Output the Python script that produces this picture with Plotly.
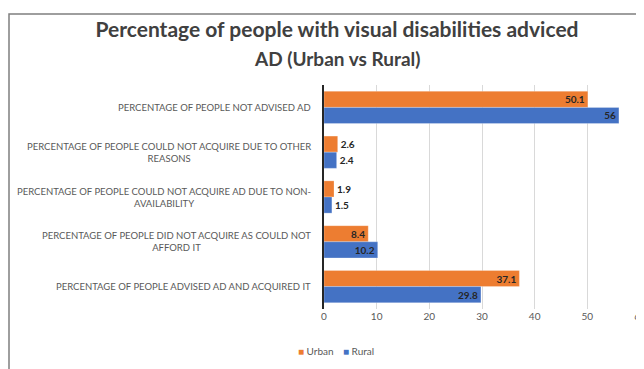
import plotly.graph_objects as go

categories = [
    "PERCENTAGE OF PEOPLE NOT ADVISED AD",
    "PERCENTAGE OF PEOPLE COULD NOT ACQUIRE DUE TO OTHER<br>REASONS",
    "PERCENTAGE OF PEOPLE COULD NOT ACQUIRE AD DUE TO NON-<br>AVAILABILITY",
    "PERCENTAGE OF PEOPLE DID NOT ACQUIRE AS COULD NOT<br>AFFORD IT",
    "PERCENTAGE OF PEOPLE ADVISED AD AND ACQUIRED IT",
]
urban = [50.1, 2.6, 1.9, 8.4, 37.1]
rural = [56, 2.4, 1.5, 10.2, 29.8]
x_ticks = [0, 10, 20, 30, 40, 50, 60]
title_lines = ["Percentage of people with visual disabilities adviced", "AD (Urban vs Rural)"]

FONT = "Lato"
LABEL_FONT = dict(family=FONT, size=10, color="#262626", weight="bold")

# page body has an 8px default margin, so figure is 8px smaller than window
W, H = 636, 361
PL, PR, PT, PB = 316, 632, 77, 307
PW, PH = PR - PL, PB - PT


def px(x):
    return (x - PL) / PW


def py(y):
    return (PB - y) / PH


def positions(vals):
    return ["inside" if v > 5 else "outside" for v in vals]


fig = go.Figure()
series = [("Urban", urban, "#ED7D31"), ("Rural", rural, "#4472C4")]
for name, vals, color in series:
    fig.add_trace(go.Bar(
        y=categories, x=vals, name=name, orientation="h", showlegend=False,
        marker=dict(color=color, line=dict(color="rgba(255,255,255,0.5)", width=0.5)),
        text=[f"{v:g}" for v in vals], textposition=positions(vals), textangle=0,
        insidetextanchor="end", constraintext="none",
        textfont=LABEL_FONT, insidetextfont=LABEL_FONT, outsidetextfont=LABEL_FONT,
        cliponaxis=False,
    ))
legend_ids = ["legend", "legend2"]
for (name, vals, color), lid in zip(series, legend_ids):
    fig.add_trace(go.Scatter(
        x=[None], y=[None], mode="markers", legend=lid,
        name=f'<span style="color:{color}">■</span> {name}',
        marker=dict(symbol="square", size=7, color="rgba(0,0,0,0)",
                    line=dict(width=0, color="rgba(0,0,0,0)")),
    ))

annotations = []
for c in categories:
    annotations.append(dict(
        x=px(PL - 11), xref="paper", y=c, yref="y", text=c, showarrow=False,
        xanchor="right", yanchor="middle", align="center",
        font=dict(family=FONT, size=9.5, color="#595959"),
    ))
annotations.append(dict(
    x=px(329), xref="paper", y=py(50), yref="paper", text=title_lines[1], showarrow=False,
    xanchor="center", yanchor="middle",
    font=dict(family=FONT, size=19, color="#404040", weight="bold"),
))

legend_common = dict(
    orientation="h", xanchor="left", yanchor="middle", y=py(350),
    font=dict(family=FONT, size=10, color="#595959"),
    itemwidth=30, bgcolor="rgba(0,0,0,0)",
)

fig.update_layout(
    width=W, height=H,
    margin=dict(l=PL, r=W - PR, t=PT, b=H - PB),
    paper_bgcolor="white", plot_bgcolor="white",
    barmode="group", bargap=0.28, bargroupgap=0,
    title=dict(
        text=title_lines[0],
        x=329 / W, xref="container", xanchor="center", y=1 - 22 / H, yref="container", yanchor="middle",
        font=dict(family=FONT, size=21, color="#404040", weight="bold"),
    ),
    xaxis=dict(
        range=[0, 60], tickvals=x_ticks, showgrid=True, gridcolor="#d9d9d9",
        gridwidth=1, zeroline=False, showline=False, ticks="",
        ticklabeloverflow="allow", automargin=False,
        tickfont=dict(family=FONT, size=10, color="#595959"),
    ),
    yaxis=dict(
        autorange="reversed", showticklabels=False, showline=True,
        linecolor="#262626", linewidth=2, ticks="", showgrid=False, automargin=False,
    ),
    legend=dict(legend_common, x=px(250)),
    legend2=dict(legend_common, x=px(295)),
    annotations=annotations,
    shapes=[dict(
        type="rect", xref="paper", yref="paper",
        x0=px(1), x1=px(700), y0=py(400), y1=py(4),
        line=dict(color="#7f7f7f", width=1.5), fillcolor="rgba(0,0,0,0)", layer="below",
    )],
)

fig.write_html("out.html")
